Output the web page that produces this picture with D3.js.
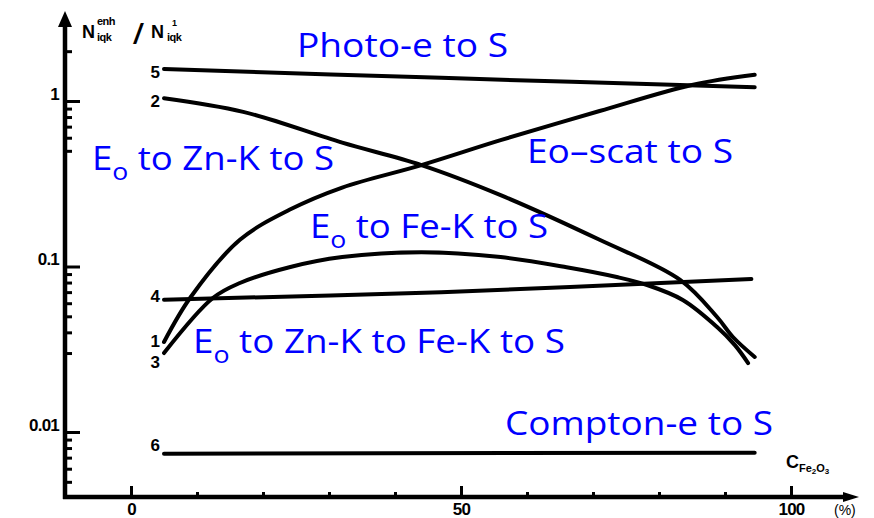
<!DOCTYPE html>
<html>
<head>
<meta charset="utf-8">
<script src="https://cdn.jsdelivr.net/npm/d3@7"></script>
<style>
  body { margin: 0; background: #fff; }
  svg { display: block; }
</style>
</head>
<body>
<svg id="chart" width="874" height="518"></svg>
<script>
// Enhancement ratio N_enh / N_1 versus Fe2O3 concentration (%), one pair of arrays per curve
const photoPct   = [5, 47, 94.5];
const photoVal   = [1.56, 1.38, 1.21];
const znPct      = [5, 17, 32, 44, 56, 71, 83.2, 88.8, 91.2, 94.5];
const znVal      = [1.04, 0.86, 0.56, 0.41, 0.27, 0.145, 0.083, 0.0495, 0.0375, 0.0284];
const scatPct    = [5, 9, 16.5, 24, 32, 44, 56, 71, 85, 94.5];
const scatVal    = [0.035, 0.065, 0.145, 0.22, 0.30, 0.41, 0.58, 0.87, 1.25, 1.44];
const fePct      = [5, 12.4, 16.5, 24, 32, 44, 56, 66, 73.6, 78.2, 83.6, 88.8, 91.5, 93.5];
const feVal      = [0.030, 0.0645, 0.0795, 0.099, 0.114, 0.122, 0.114, 0.099, 0.0864, 0.0773, 0.0628, 0.0431, 0.0335, 0.0261];
const znFePct    = [5, 47, 94];
const znFeVal    = [0.063, 0.070, 0.084];
const comptonPct = [5, 94.5];
const comptonVal = [0.0074, 0.0075];

// Curve numbers as printed at the left end of each curve
const curveIds = ["5", "2", "1", "3", "4", "6"];

// Axis ticks
const xMajorTicks = [0, 50, 100];
const xMinorTicks = [10, 20, 30, 40, 60, 70, 80, 90];
const yMajorTicks = [1, 0.1, 0.01];
const yMajorLabels = ["1", "0.1", "0.01"];
const yMinorTicks = [2, 0.9, 0.8, 0.7, 0.6, 0.5,
                     0.09, 0.08, 0.07, 0.06, 0.05, 0.04, 0.03,
                     0.009, 0.008, 0.007, 0.006, 0.005];

// Process names written beside the curves (text between bars is a subscript)
const processNames = ["Photo-e to S", "Eo\u2013scat to S", "E|o| to Zn-K to S",
                      "E|o| to Fe-K to S", "E|o| to Zn-K to Fe-K to S", "Compton-e to S"];

const series = [
  { id: curveIds[0], pct: photoPct,   val: photoVal },
  { id: curveIds[1], pct: znPct,      val: znVal },
  { id: curveIds[2], pct: scatPct,    val: scatVal },
  { id: curveIds[3], pct: fePct,      val: feVal },
  { id: curveIds[4], pct: znFePct,    val: znFeVal },
  { id: curveIds[5], pct: comptonPct, val: comptonVal }
];

// ---- layout ----
const svg = d3.select("#chart");
const axisX = 65;    // pixel column of the vertical axis
const axisY = 497;   // pixel row of the horizontal axis

const x = d3.scaleLinear().domain([0, 100]).range([131, 791]);
const y = d3.scaleLog().domain([1, 0.01]).range([101, 432]);

const tickFont = "'Liberation Sans', Arial, sans-serif";
const blueFont = "'Open Sans', 'Noto Sans', sans-serif";

// ---- axes ----
function styleAxis(g) {
  g.select(".domain").remove();
  g.selectAll(".tick line").attr("stroke", "#000").attr("stroke-width", 3);
  g.selectAll(".tick text")
    .attr("fill", "#000")
    .attr("font-family", tickFont)
    .attr("font-weight", "bold")
    .attr("font-size", 17)
    .attr("letter-spacing", -0.8);
}

svg.append("g")
  .attr("transform", `translate(0,${axisY})`)
  .call(d3.axisBottom(x).tickValues(xMinorTicks).tickSizeInner(-5).tickSizeOuter(0).tickFormat(""))
  .call(styleAxis);

svg.append("g")
  .attr("transform", `translate(0,${axisY})`)
  .call(d3.axisBottom(x).tickValues(xMajorTicks).tickSizeInner(-11).tickSizeOuter(0).tickPadding(6).tickFormat(d3.format("d")))
  .call(styleAxis);

svg.append("g")
  .attr("transform", `translate(${axisX},0)`)
  .call(d3.axisLeft(y).tickValues(yMinorTicks).tickSizeInner(-7).tickSizeOuter(0).tickFormat(""))
  .call(styleAxis);

const yMajor = svg.append("g")
  .attr("transform", `translate(${axisX},0)`)
  .call(d3.axisLeft(y).tickValues(yMajorTicks).tickSizeInner(-15).tickSizeOuter(0).tickPadding(6)
        .tickFormat((d, i) => yMajorLabels[i]))
  .call(styleAxis);
yMajor.selectAll(".tick text").attr("y", -7);

// axis lines with arrow heads
svg.append("line")
  .attr("x1", axisX).attr("y1", axisY + 2).attr("x2", axisX).attr("y2", 24)
  .attr("stroke", "#000").attr("stroke-width", 4.5);
svg.append("path")
  .attr("d", `M${axisX - 7},27 L${axisX},11 L${axisX + 7},27 Z`)
  .attr("fill", "#000");
svg.append("line")
  .attr("x1", axisX - 2).attr("y1", axisY).attr("x2", 848).attr("y2", axisY)
  .attr("stroke", "#000").attr("stroke-width", 4.5);
svg.append("path")
  .attr("d", `M843,${axisY - 5} L859,${axisY} L843,${axisY + 5} Z`)
  .attr("fill", "#000");

// y axis title: N^enh_iqk / N^1_iqk
const titleG = svg.append("g")
  .attr("font-family", tickFont).attr("font-weight", "bold").attr("fill", "#000");
titleG.append("text").attr("x", 82).attr("y", 38).attr("font-size", 18).text("N");
titleG.append("text").attr("x", 97).attr("y", 25).attr("font-size", 11).attr("letter-spacing", -0.5).text("enh");
titleG.append("text").attr("x", 97).attr("y", 41).attr("font-size", 11).attr("letter-spacing", -0.5).text("iqk");
titleG.append("text").attr("x", 134).attr("y", 43).attr("font-size", 27).attr("font-style", "italic").text("/");
titleG.append("text").attr("x", 151).attr("y", 38).attr("font-size", 18).text("N");
titleG.append("text").attr("x", 172).attr("y", 26).attr("font-size", 9).text("1");
titleG.append("text").attr("x", 167).attr("y", 41).attr("font-size", 11).attr("letter-spacing", -0.5).text("iqk");

// x axis title: C_Fe2O3 and the unit
const xTitle = svg.append("text")
  .attr("x", 786).attr("y", 468)
  .attr("font-family", tickFont).attr("font-weight", "bold").attr("font-size", 18).attr("fill", "#000");
xTitle.append("tspan").text("C");
xTitle.append("tspan").attr("font-size", 11).attr("dy", 4).text("Fe");
xTitle.append("tspan").attr("font-size", 8).attr("dy", 2).text("2");
xTitle.append("tspan").attr("font-size", 11).attr("dy", -2).text("O");
xTitle.append("tspan").attr("font-size", 8).attr("dy", 2).text("3");
svg.append("text")
  .attr("x", 834).attr("y", 515)
  .attr("font-family", tickFont).attr("font-size", 14).attr("fill", "#000")
  .text("(%)");

// ---- curves ----
const line = d3.line()
  .x(d => x(d[0]))
  .y(d => y(d[1]))
  .curve(d3.curveCatmullRom.alpha(0.5));

svg.append("g")
  .selectAll("path")
  .data(series)
  .join("path")
  .attr("d", s => line(s.pct.map((p, i) => [p, s.val[i]])))
  .attr("fill", "none")
  .attr("stroke", "#000")
  .attr("stroke-width", 4)
  .attr("stroke-linecap", "round")
  .attr("stroke-linejoin", "round");

// curve numbers, offset vertically from each curve's first point
const idOffset = { "5": 9, "2": 9, "1": 5, "3": 15, "4": 2, "6": -3 };
svg.append("g")
  .selectAll("text")
  .data(series)
  .join("text")
  .attr("x", s => x(s.pct[0]) - 4)
  .attr("y", s => y(s.val[0]) + idOffset[s.id])
  .attr("text-anchor", "end")
  .attr("font-family", tickFont)
  .attr("font-weight", "bold")
  .attr("font-size", 17)
  .attr("fill", "#000")
  .text(s => s.id);

// ---- process names (blue) ----
const nameLayout = [
  { x: 297, y: 57,  w: 211 },
  { x: 527, y: 163, w: 206 },
  { x: 92,  y: 170, w: 242 },
  { x: 310, y: 238, w: 238 },
  { x: 193, y: 353, w: 372 },
  { x: 505, y: 435, w: 268 }
];

processNames.forEach((name, i) => {
  const L = nameLayout[i];
  const t = svg.append("text")
    .attr("x", L.x).attr("y", L.y)
    .attr("font-family", blueFont)
    .attr("font-size", 33)
    .attr("fill", "#0000ff")
    .attr("textLength", L.w)
    .attr("lengthAdjust", "spacingAndGlyphs");
  name.split("|").forEach((part, k) => {
    if (!part) return;
    const sub = k % 2 === 1;
    t.append("tspan")
      .attr("font-size", sub ? 24 : null)
      .attr("dy", sub ? 10 : (k > 0 ? -10 : 0))
      .text(part);
  });
});
</script>
</body>
</html>
